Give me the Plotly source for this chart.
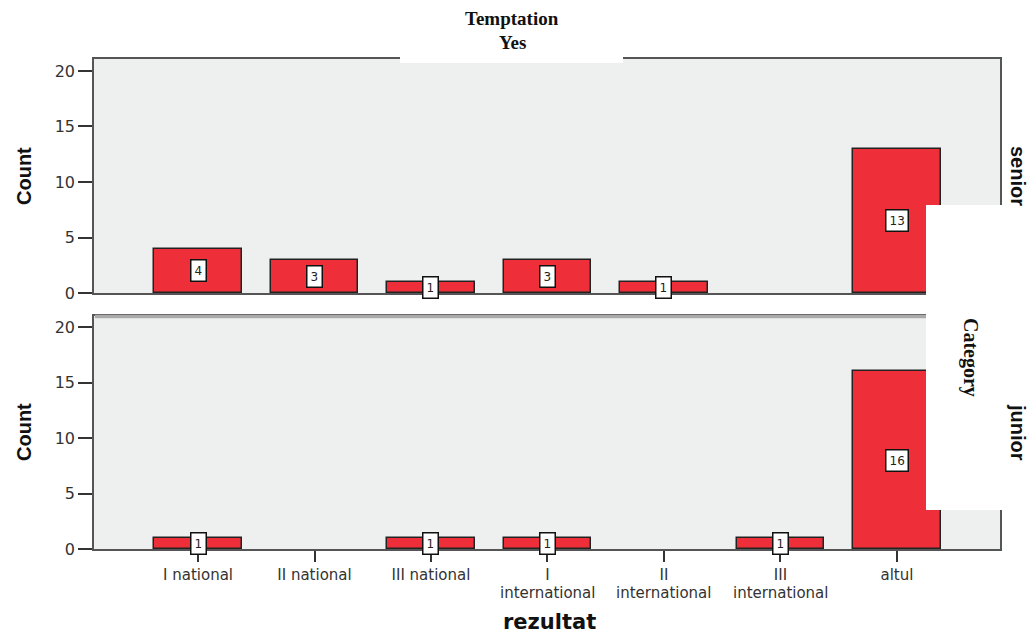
import plotly.graph_objects as go

categories = ["I national", "II national", "III national", "I<br>international",
              "II<br>international", "III<br>international", "altul"]
senior_counts = [4, 3, 1, 3, 1, 0, 13]
junior_counts = [1, 0, 1, 1, 0, 1, 16]
y_ticks = [0, 5, 10, 15, 20]

W, H = 1029, 633
PL, PR, PT, PB = 94, 1000, 59, 549   # plot area in page pixels
L, T, R, B = PL, PT, W - PR, H - PB
plot_w = PR - PL
plot_h = PB - PT

def px_x(px):
    return (px - PL) / plot_w

def px_y(py):
    return (PB - py) / plot_h

RED = "#EE2E38"
BG = "#EEF0F0"
xs = list(range(len(categories)))
line1 = [c.split("<br>")[0] for c in categories]
line2 = [c.split("<br>")[1] if "<br>" in c else "" for c in categories]

fig = go.Figure()
for vals, ax, xa in [(senior_counts, "y", "x"), (junior_counts, "y2", "x2")]:
    fig.add_trace(go.Bar(
        x=xs, y=[v if v else None for v in vals], yaxis=ax, xaxis=xa,
        width=0.75, marker=dict(color=RED, line=dict(color="#222222", width=1.5)),
        showlegend=False, hoverinfo="skip"))

annotations = []
for vals, xr, yr in [(senior_counts, "x", "y"), (junior_counts, "x2", "y2")]:
    for i, v in enumerate(vals):
        if v > 0:
            annotations.append(dict(
                x=i, y=v / 2, xref=xr, yref=yr, text=str(v), showarrow=False,
                xanchor="center", yanchor="middle",
                font=dict(family="DejaVu Sans", size=12, color="#222"),
                bgcolor="white", bordercolor="#111", borderwidth=1.5, borderpad=3))

xr_range = [-0.893, 6.885]
axis_line = dict(showline=True, linecolor="#555", linewidth=1.5, mirror=True)
tickfont = dict(family="DejaVu Sans", size=16, color="#333")
xtickfont = dict(family="DejaVu Sans", size=15, color="#333")

fig.update_layout(
    width=W, height=H,
    margin=dict(l=L, r=R, t=T, b=B),
    paper_bgcolor="white", plot_bgcolor=BG,
    bargap=0,
    xaxis=dict(domain=[0, 1], anchor="y", range=xr_range, showticklabels=False,
               ticks="", showgrid=False, zeroline=False, tickvals=xs, **axis_line),
    xaxis2=dict(domain=[0, 1], anchor="y2", range=xr_range, tickvals=xs,
                ticktext=line1, ticks="outside", ticklen=11, tickcolor="#333",
                tickwidth=1.5, tickfont=xtickfont,
                showgrid=False, zeroline=False, **axis_line),
    yaxis=dict(domain=[px_y(293), 1], anchor="x", range=[0, 21.08],
               tickvals=y_ticks, ticks="outside", ticklen=14,
               tickcolor="#333", tickwidth=1.5, tickfont=tickfont,
               showgrid=False, zeroline=False, **axis_line),
    yaxis2=dict(domain=[0, px_y(316)], anchor="x2", range=[0, 21.0],
                tickvals=y_ticks, ticks="outside", ticklen=14,
                tickcolor="#333", tickwidth=1.5, tickfont=tickfont,
                showgrid=False, zeroline=False, **axis_line),
)

shapes = [
    # lighter top border of the lower panel
    dict(type="line", xref="paper", yref="paper", x0=0.001, x1=0.999,
         y0=px_y(316.5), y1=px_y(316.5), line=dict(color="#AAAAAA", width=3.5),
         layer="above"),
    dict(type="rect", xref="paper", yref="paper", x0=px_x(400), x1=px_x(623),
         y0=px_y(63), y1=px_y(-20), fillcolor="white", line=dict(width=0), layer="above"),
    dict(type="rect", xref="paper", yref="paper", x0=px_x(926), x1=px_x(1040),
         y0=px_y(510), y1=px_y(205), fillcolor="white", line=dict(width=0), layer="above"),
]

bold_sans = dict(family="Liberation Sans, Arial", size=20, color="#111")
serif = dict(family="Liberation Serif, Times New Roman", size=20, color="#111")

def lab(x, y, text, angle=0, font=bold_sans):
    return dict(x=px_x(x), y=px_y(y), xref="paper", yref="paper", text=text,
                textangle=angle, showarrow=False, xanchor="center", yanchor="middle",
                font=font)

for i, t in enumerate(line2):
    if t:
        annotations.append(dict(x=i, xref="x2", y=px_y(593), yref="paper", text=t,
                                showarrow=False, xanchor="center", yanchor="middle",
                                font=xtickfont))

annotations += [
    lab(24, 176, "<b>Count</b>", -90),
    lab(24, 432, "<b>Count</b>", -90),
    lab(1018, 176, "<b>senior</b>", 90),
    lab(1018, 432, "<b>junior</b>", 90),
    lab(971, 357, "<b>Category</b>", 90, serif),
    lab(512, 18, "<b>Temptation</b>", 0, dict(serif, size=19)),
    lab(512, 42, "<b>Yes</b>", 0, dict(serif, size=19)),
    lab(549, 622, "<b>rezultat</b>", 0, dict(family="DejaVu Sans", size=21, color="#111")),
]
fig.update_layout(shapes=shapes, annotations=annotations)

fig.write_html("out.html", config={"displayModeBar": False},
               post_script="document.body.style.margin='0';")
